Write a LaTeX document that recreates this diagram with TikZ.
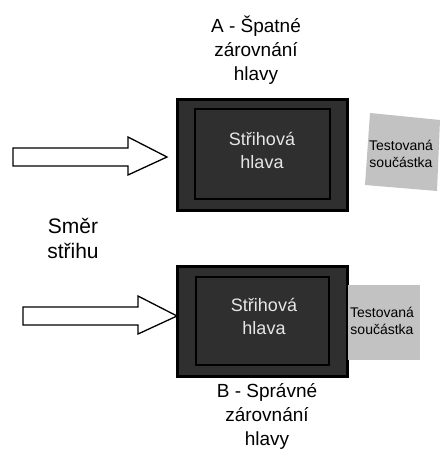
\documentclass[tikz,border=0pt]{standalone}
\usepackage{fontspec}
\setmainfont{Liberation Sans}
\definecolor{headfill}{HTML}{2F2F2F}
\definecolor{headtext}{HTML}{E6E6E6}
\definecolor{partfill}{HTML}{C2C2C2}
\begin{document}
\begin{tikzpicture}[x=1pt,y=-1pt,
  caption/.style={align=center,inner sep=0pt,font=\fontsize{19}{24}\selectfont},
  outerhead/.style={draw=black,line width=3pt,fill=headfill},
  innerhead/.style={draw=black,line width=1.2pt,fill=headfill},
  headlabel/.style={align=center,inner sep=0pt,text=headtext,font=\fontsize{18}{23}\selectfont},
  part/.style={fill=partfill,draw=none},
  partlabel/.style={align=center,inner sep=0pt,font=\fontsize{14}{17}\selectfont},
  blockarrow/.style={draw=black,line width=1.3pt,fill=white,line join=miter}]
\useasboundingbox (0,0) rectangle (441,454);
% top case A
\node[caption] (titleA) at (256,50) {A - Špatné\\zárovnání\\hlavy};
\draw[blockarrow] (13,148) -- (128,148) -- (128,137) -- (167,157) -- (128,175) -- (128,166) -- (13,166) -- cycle;
\draw[outerhead] (177,100) rectangle (347,210);
\draw[innerhead] (195,109) rectangle (330,199);
\node[headlabel] (headA) at (262,150) {Střihová\\hlava};
\draw[part] (370,113) -- (440,120) -- (437,191) -- (365,185) -- cycle;
\node[partlabel] (partA) at (401,154) {Testovaná\\součástka};
% direction label
\node[align=center,inner sep=0pt,font=\fontsize{21}{25}\selectfont] (dir) at (73,238) {Směr\\střihu};
% bottom case B
\draw[blockarrow] (23,307) -- (138,307) -- (138,296) -- (177,316) -- (138,334) -- (138,325) -- (23,325) -- cycle;
\draw[outerhead] (177,266) rectangle (347,376);
\draw[innerhead] (196,277) rectangle (329,365);
\node[headlabel] (headB) at (264,316) {Střihová\\hlava};
\draw[part] (348,285) rectangle (420,360);
\node[partlabel] (partB) at (382,321) {Testovaná\\součástka};
\node[caption] (titleB) at (267,416) {B - Správné\\zárovnání\\hlavy};
\end{tikzpicture}
\end{document}
